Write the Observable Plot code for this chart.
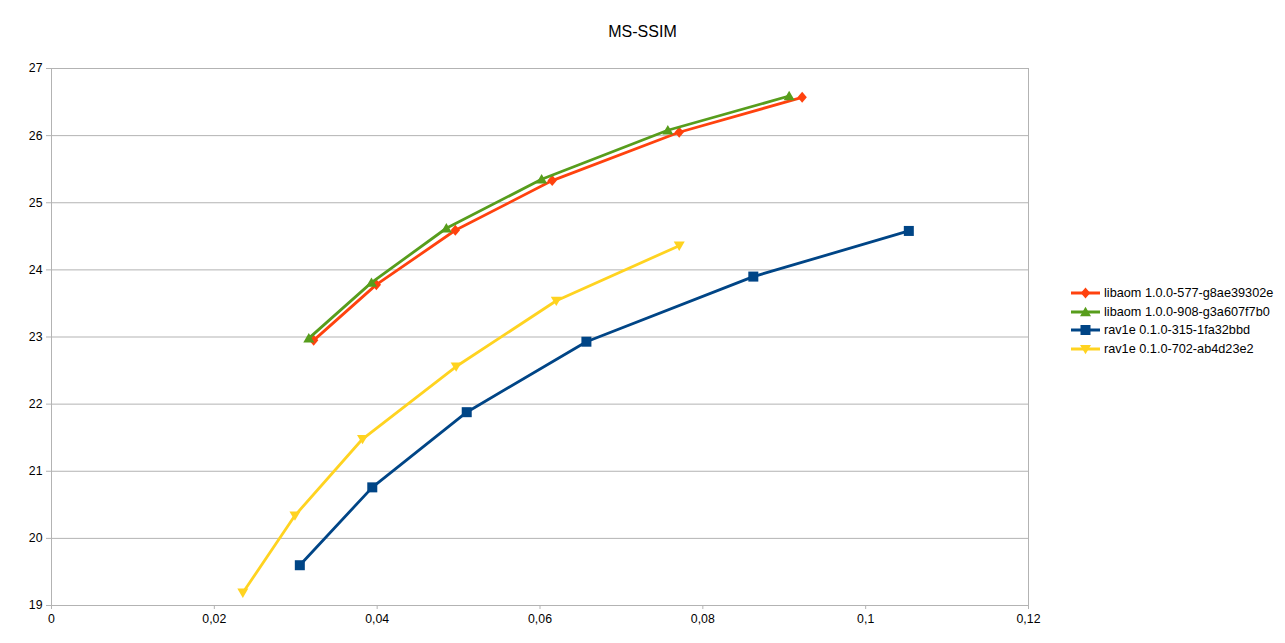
<!DOCTYPE html>
<html>
<head>
<meta charset="utf-8">
<script src="https://cdn.jsdelivr.net/npm/d3@7"></script>
<script src="https://cdn.jsdelivr.net/npm/@observablehq/plot@0.6"></script>
<style>
  html, body { margin: 0; padding: 0; background: #fff; }
  body { font-family: "Liberation Sans", Arial, sans-serif; }
  #wrap { position: relative; width: 1285px; height: 643px; overflow: hidden; }
  #title { position: absolute; left: 0; width: 1285px; top: 23px; text-align: center; font-size: 16px; color: #000; }
  #legend { position: absolute; left: 1070px; top: 284px; font-size: 12.7px; color: #000; }
  .row { display: flex; align-items: center; height: 18.5px; }
  .row svg { margin-right: 3px; }
  #chart { position: absolute; left: 0; top: 0; }
</style>
</head>
<body>
<div id="wrap">
  <div id="chart"></div>
  <div id="title">MS-SSIM</div>
  <div id="legend"></div>
</div>
<script>
// ---- data ----
const seriesNames = [
  "libaom 1.0.0-577-g8ae39302e",
  "libaom 1.0.0-908-g3a607f7b0",
  "rav1e 0.1.0-315-1fa32bbd",
  "rav1e 0.1.0-702-ab4d23e2"
];
const seriesColors = ["#ff420e", "#579d1c", "#004586", "#ffd320"];
const seriesSymbols = ["diamond", "triangleUp", "square", "triangleDown"];

const libaom577X = [0.0322, 0.0399, 0.0496, 0.0615, 0.0771, 0.0922];
const libaom577Y = [22.95, 23.78, 24.59, 25.33, 26.05, 26.57];

const libaom908X = [0.0316, 0.0393, 0.0485, 0.0602, 0.0757, 0.0906];
const libaom908Y = [22.98, 23.81, 24.62, 25.35, 26.08, 26.59];

const rav1e315X = [0.0305, 0.0394, 0.0510, 0.0657, 0.0862, 0.1053];
const rav1e315Y = [19.60, 20.76, 21.88, 22.93, 23.90, 24.58];

const rav1e702X = [0.0235, 0.0299, 0.0382, 0.0497, 0.0620, 0.0771];
const rav1e702Y = [19.19, 20.34, 21.48, 22.56, 23.54, 24.36];

const xTicks = [0, 0.02, 0.04, 0.06, 0.08, 0.1, 0.12];
const xTickLabels = ["0", "0,02", "0,04", "0,06", "0,08", "0,1", "0,12"];
const yTicks = [19, 20, 21, 22, 23, 24, 25, 26, 27];
const yTickLabels = ["19", "20", "21", "22", "23", "24", "25", "26", "27"];

// ---- build table ----
const allX = [libaom577X, libaom908X, rav1e315X, rav1e702X];
const allY = [libaom577Y, libaom908Y, rav1e315Y, rav1e702Y];
const rows = [];
seriesNames.forEach((name, i) => {
  allX[i].forEach((x, j) => rows.push({series: name, x, y: allY[i][j]}));
});

// ---- custom symbols ----
function radius(size) { return Math.sqrt(size / Math.PI); }
const symbolDefs = {
  diamond: { draw(ctx, size) { const r = radius(size) * 1.0; ctx.moveTo(0, -r); ctx.lineTo(r * 0.85, 0); ctx.lineTo(0, r); ctx.lineTo(-r * 0.85, 0); ctx.closePath(); } },
  square: { draw(ctx, size) { const h = radius(size) * 0.91; ctx.rect(-h, -h, 2 * h, 2 * h); } },
  triangleUp: { draw(ctx, size) { const r = radius(size); const w = r * 1.0; ctx.moveTo(0, -r * 0.95); ctx.lineTo(w, r * 0.75); ctx.lineTo(-w, r * 0.75); ctx.closePath(); } },
  triangleDown: { draw(ctx, size) { const r = radius(size); const w = r * 1.0; ctx.moveTo(0, r * 0.95); ctx.lineTo(w, -r * 0.75); ctx.lineTo(-w, -r * 0.75); ctx.closePath(); } }
};

const gridColor = "#b3b3b3";

const marks = [
  Plot.gridY(yTicks, {stroke: gridColor, strokeOpacity: 1, strokeWidth: 1}),
  Plot.frame({stroke: gridColor, strokeWidth: 1}),
  Plot.axisX(xTicks, {tickSize: 4, stroke: gridColor, fill: "#000", tickFormat: (d, i) => xTickLabels[i], fontSize: 12.3, tickPadding: 5}),
  Plot.axisY(yTicks, {tickSize: 5, stroke: gridColor, fill: "#000", tickFormat: (d, i) => yTickLabels[i], fontSize: 12.3, tickPadding: 4})
];
seriesNames.forEach((name, i) => {
  const data = rows.filter(r => r.series === name);
  marks.push(Plot.line(data, {x: "x", y: "y", stroke: seriesColors[i], strokeWidth: 2.8}));
  marks.push(Plot.dot(data, {x: "x", y: "y", r: 5.5, fill: seriesColors[i], stroke: "none", symbol: symbolDefs[seriesSymbols[i]]}));
});

const chart = Plot.plot({
  width: 1285,
  height: 643,
  marginLeft: 51,
  marginRight: 257,
  marginTop: 68,
  marginBottom: 38,
  style: {fontFamily: "Liberation Sans, Arial, sans-serif", fontSize: "12px", color: "#000", background: "#fff"},
  x: {domain: [0, 0.12], label: null},
  y: {domain: [19, 27], label: null},
  marks
});
document.getElementById("chart").appendChild(chart);

// ---- legend ----
const legend = document.getElementById("legend");
seriesNames.forEach((name, i) => {
  const row = document.createElement("div");
  row.className = "row";
  const svg = d3.create("svg").attr("width", 31).attr("height", 14);
  svg.append("line").attr("x1", 1).attr("x2", 30).attr("y1", 7).attr("y2", 7)
    .attr("stroke", seriesColors[i]).attr("stroke-width", 3);
  svg.append("path").attr("transform", "translate(15.5,7)")
    .attr("d", d3.symbol(symbolDefs[seriesSymbols[i]], Math.PI * 5.5 * 5.5)())
    .attr("fill", seriesColors[i]);
  row.appendChild(svg.node());
  const span = document.createElement("span");
  span.textContent = name;
  row.appendChild(span);
  legend.appendChild(row);
});
</script>
</body>
</html>
